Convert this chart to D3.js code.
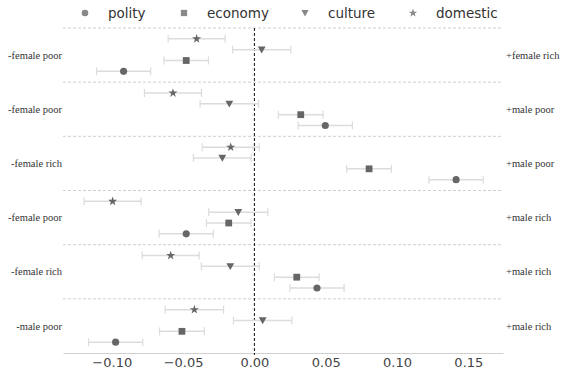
<!DOCTYPE html>
<html><head><meta charset="utf-8">
<script src="https://cdn.jsdelivr.net/npm/d3@7"></script>
<style>body{margin:0;background:#fff}</style>
</head><body><svg id="c" width="562" height="373"></svg>
<script>
const leftLabels = ["-female poor","-female poor","-female rich","-female poor","-female rich","-male poor"];
const rightLabels = ["+female rich","+male poor","+male poor","+male rich","+male rich","+male rich"];
const seriesNames = ["polity","economy","culture","domestic"];
const polity = [-0.0917, 0.0497, 0.1414, -0.0478, 0.0439, -0.0973];
const polityErr = [0.019, 0.019, 0.019, 0.019, 0.019, 0.019];
const economy = [-0.0478, 0.0325, 0.0804, -0.018, 0.0297, -0.0508];
const economyErr = [0.0156, 0.0157, 0.0157, 0.0156, 0.0157, 0.0157];
const culture = [0.0051, -0.0176, -0.0225, -0.0113, -0.0169, 0.0058];
const cultureErr = [0.0204, 0.0205, 0.0203, 0.0207, 0.0203, 0.0205];
const domestic = [-0.0405, -0.0571, -0.0166, -0.0994, -0.0587, -0.0421];
const domesticErr = [0.020, 0.020, 0.020, 0.020, 0.020, 0.0205];
const xTicks = [-0.10, -0.05, 0.00, 0.05, 0.10, 0.15];

const svg = d3.select("#c");
const x = d3.scaleLinear().domain([-0.1342, 0.1743]).range([63, 503]);
const y = d3.scaleLinear().domain([0, 30]).range([28, 353]);
const markerColor = "#666";
const errColor = "#dcdcdc";

// row order within group from top: domestic, culture, economy, polity
const series = [
  {name:"polity", vals:polity, err:polityErr, sym:d3.symbolCircle, size:40, row:4},
  {name:"economy", vals:economy, err:economyErr, sym:d3.symbolSquare, size:46, row:3},
  {name:"culture", vals:culture, err:cultureErr, sym:"tri", size:40, row:2},
  {name:"domestic", vals:domestic, err:domesticErr, sym:d3.symbolStar, size:26, row:1}
];
function symPath(s, size){
  if (s === "tri") {
    const r = Math.sqrt(size)*0.62;
    return `M${-r},${-r*0.8}L${r},${-r*0.8}L0,${r*0.95}Z`;
  }
  return d3.symbol().type(s).size(size)();
}

// separators
const seps = d3.range(0, 6).map(i => i*5);
svg.append("g").selectAll("line").data(seps).join("line")
  .attr("x1", x.range()[0]).attr("x2", x.range()[1])
  .attr("y1", d => y(d)).attr("y2", d => y(d))
  .attr("stroke", "#c4c4c4").attr("stroke-width", 0.8).attr("stroke-dasharray", "3,2");

// x axis
const axis = d3.axisBottom(x).tickValues(xTicks).tickFormat(d3.format(".2f")).tickSize(0).tickPadding(5);
const ag = svg.append("g").attr("transform", `translate(0,${y(30)})`).call(axis);
ag.select(".domain").attr("stroke", "#d0d0d0").attr("stroke-width", 1);
ag.selectAll("text").attr("font-family", "DejaVu Sans").attr("font-size", 13).attr("fill", "#444")
  .text(d => d3.format(".2f")(d).replace("-", "\u2212"));

// zero line
svg.append("line").attr("x1", x(0)).attr("x2", x(0)).attr("y1", y(0)).attr("y2", y(30)+2)
  .attr("stroke", "#111").attr("stroke-width", 1).attr("stroke-dasharray", "3,2");

// error bars and markers
series.forEach(s => {
  const g = svg.append("g");
  const d = s.vals.map((v,i) => ({v, e:s.err[i], yy:y(i*5 + s.row)}));
  g.selectAll(".eb").data(d).join("line").attr("class","eb")
    .attr("x1", a => x(a.v - a.e)).attr("x2", a => x(a.v + a.e))
    .attr("y1", a => a.yy).attr("y2", a => a.yy)
    .attr("stroke", errColor).attr("stroke-width", 1.5);
  ["-","+"].forEach(side => {
    g.selectAll(".cap"+(side==="-"?"l":"r")).data(d).join("line")
      .attr("x1", a => x(side==="-" ? a.v - a.e : a.v + a.e))
      .attr("x2", a => x(side==="-" ? a.v - a.e : a.v + a.e))
      .attr("y1", a => a.yy - 4).attr("y2", a => a.yy + 4)
      .attr("stroke", errColor).attr("stroke-width", 1.2);
  });
  g.selectAll("path").data(d).join("path")
    .attr("d", symPath(s.sym, s.size))
    .attr("transform", a => `translate(${x(a.v)},${a.yy})`)
    .attr("fill", markerColor);
});

// group labels
svg.append("g").selectAll("text").data(leftLabels).join("text")
  .attr("x", 62).attr("y", (d,i) => y(i*5 + 2.5)).attr("dy", "0.35em")
  .attr("text-anchor", "end").attr("font-family", "Liberation Serif").attr("font-size", 10.5)
  .attr("fill", "#333").text(d => d);
svg.append("g").selectAll("text").data(rightLabels).join("text")
  .attr("x", 506).attr("y", (d,i) => y(i*5 + 2.5)).attr("dy", "0.35em")
  .attr("text-anchor", "start").attr("font-family", "Liberation Serif").attr("font-size", 10.5)
  .attr("fill", "#333").text(d => d);

// legend
const legendX = [85, 184, 305, 413];
const leg = svg.append("g");
seriesNames.forEach((n, i) => {
  const s = series.find(q => q.name === n);
  leg.append("path").attr("d", symPath(s.sym, s.size*0.85))
    .attr("transform", `translate(${legendX[i]},13)`).attr("fill", "#888");
  leg.append("text").attr("x", legendX[i] + 23).attr("y", 13).attr("dy", "0.35em")
    .attr("font-family", "DejaVu Sans").attr("font-size", 13.5).attr("fill", "#333").text(n);
});
</script></body></html>
